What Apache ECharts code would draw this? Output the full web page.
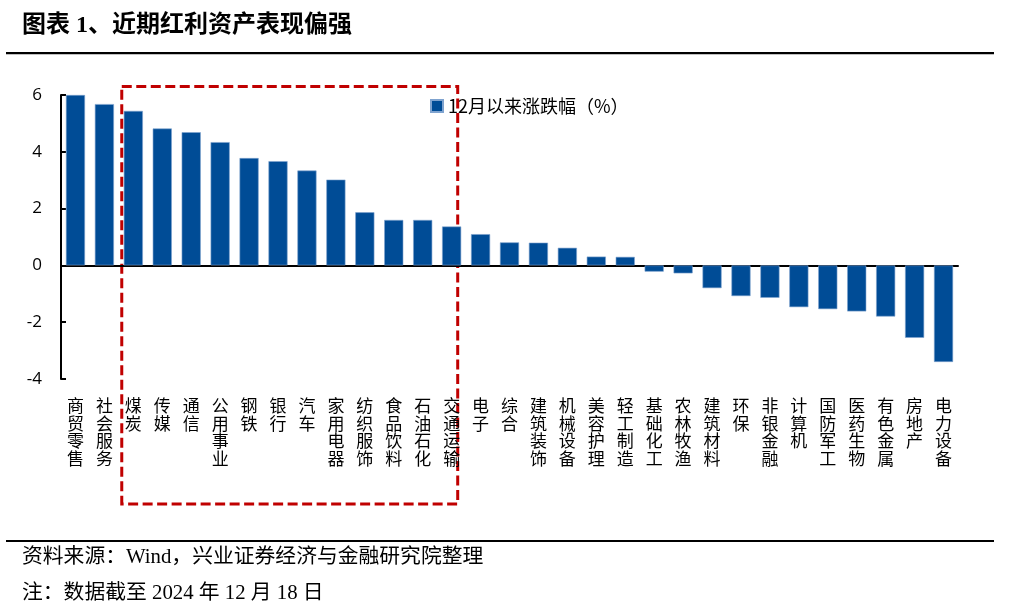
<!DOCTYPE html>
<html>
<head>
<meta charset="utf-8">
<script src="https://cdn.jsdelivr.net/npm/echarts@6/dist/echarts.min.js"></script>
<style>html,body{margin:0;padding:0;background:#fff;}#main{width:1009px;height:615px;}</style>
</head>
<body>
<div id="main"></div>
<script>
const categories = ['商贸零售','社会服务','煤炭','传媒','通信','公用事业','钢铁','银行','汽车','家用电器','纺织服饰','食品饮料','石油石化','交通运输','电子','综合','建筑装饰','机械设备','美容护理','轻工制造','基础化工','农林牧渔','建筑材料','环保','非银金融','计算机','国防军工','医药生物','有色金属','房地产','电力设备'];
const changes = [6.0,5.68,5.44,4.82,4.69,4.34,3.78,3.67,3.34,3.02,1.87,1.6,1.6,1.37,1.1,0.81,0.8,0.62,0.31,0.3,-0.22,-0.28,-0.8,-1.08,-1.14,-1.47,-1.54,-1.62,-1.8,-2.55,-3.4];
const seriesName = '12月以来涨跌幅（%）';
const yTicks = {min: -4, max: 6, interval: 2};

const chart = echarts.init(document.getElementById('main'), null, {renderer: 'canvas'});
const cjk = '"Noto Sans CJK SC", sans-serif';
const serifMix = '"Liberation Serif", "Noto Sans CJK SC", serif';

chart.setOption({
  animation: false,
  backgroundColor: '#fff',
  grid: {left: 61, right: 51, top: 95, bottom: 236, containLabel: false},
  legend: {
    data: [seriesName], left: 425, top: 92, icon: 'rect', itemWidth: 12, itemHeight: 12, itemGap: 5,
    textStyle: {fontFamily: cjk, fontSize: 18, color: '#000'}
  },
  xAxis: [{
    type: 'category', data: categories, position: 'bottom',
    axisLine: {onZero: true, lineStyle: {color: '#000', width: 2}},
    axisTick: {show: false}, axisLabel: {show: false}
  }, {
    type: 'category', data: categories, position: 'bottom',
    axisLine: {show: false, onZero: false}, axisTick: {show: false},
    axisLabel: {
      interval: 0, margin: 18, color: '#000', fontFamily: cjk, fontSize: 17, lineHeight: 17.5,
      formatter: v => v.split('').join('\n')
    }
  }],
  yAxis: {
    type: 'value', min: yTicks.min, max: yTicks.max, interval: yTicks.interval,
    axisLine: {show: true, lineStyle: {color: '#000', width: 2}},
    axisTick: {show: true, inside: true, length: 5, lineStyle: {color: '#000', width: 2}},
    axisLabel: {margin: 19, color: '#000', fontFamily: '"Open Sans", sans-serif', fontSize: 17},
    splitLine: {show: false}
  },
  series: [{
    name: seriesName, type: 'bar', data: changes, xAxisIndex: 0,
    barCategoryGap: '34%',
    itemStyle: {color: '#004C96', borderColor: '#7FA3CF', borderWidth: 0.6}
  }]
});

// annotation box computed through the axes
const pxL = chart.convertToPixel({xAxisIndex: 0}, 2);
const pxR = chart.convertToPixel({xAxisIndex: 0}, 13);
const step = chart.convertToPixel({xAxisIndex: 0}, 3) - pxL;
const boxL = pxL - 0.4 * step, boxR = pxR + 0.21 * step;
const boxT = chart.convertToPixel({yAxisIndex: 0}, 6.3);
const boxB = chart.convertToPixel({yAxisIndex: 0}, -8.4);

chart.setOption({
  graphic: [
    {type: 'text', left: 22, top: 14, style: {text: '图表 1、近期红利资产表现偏强', font: 'bold 24px ' + serifMix, fill: '#000'}},
    {type: 'rect', shape: {x: 6, y: 52, width: 988, height: 2.2}, style: {fill: '#000'}},
    {type: 'rect', shape: {x: boxL, y: boxT, width: boxR - boxL, height: boxB - boxT},
      style: {fill: 'none', stroke: '#C00000', lineWidth: 3, lineDash: [10, 4.5]}},
    {type: 'rect', shape: {x: 6, y: 540, width: 988, height: 2}, style: {fill: '#000'}},
    {type: 'text', left: 22, top: 547, style: {text: '资料来源：Wind，兴业证券经济与金融研究院整理', font: '20.8px ' + serifMix, fill: '#000'}},
    {type: 'text', left: 22, top: 583, style: {text: '注：数据截至 2024 年 12 月 18 日', font: '20.8px ' + serifMix, fill: '#000'}}
  ]
});
</script>
</body>
</html>
